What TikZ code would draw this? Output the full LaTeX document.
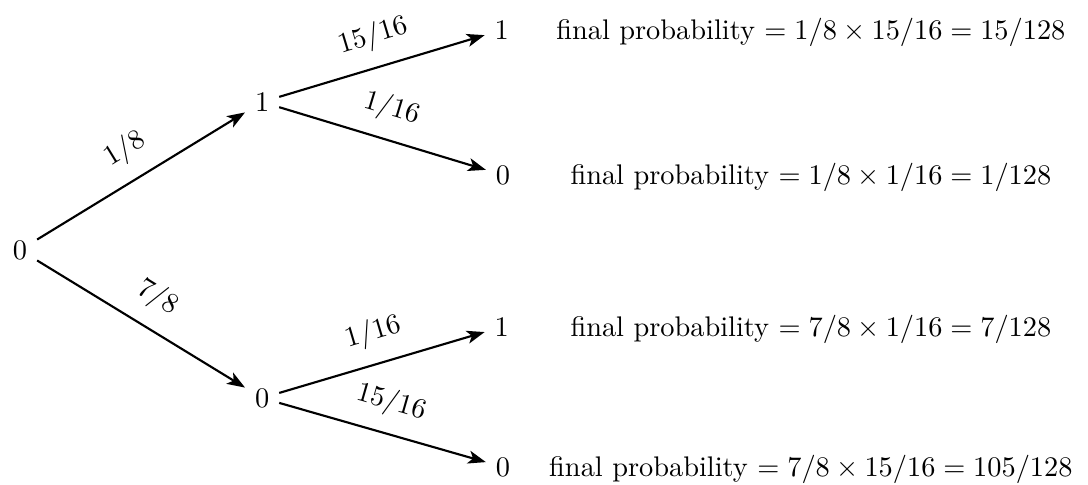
\documentclass[tikz,border=0pt]{standalone}
\usepackage{amsmath}
\usetikzlibrary{arrows.meta,calc}
\tikzset{
  state/.style={inner sep=3.33pt},
  branch/.style={-{Stealth[length=6.3pt,width=4.6pt,inset=1.6pt]},line width=.75pt},
  prob/.style={above,sloped,midway,inner sep=5.6pt},
  final/.style={anchor=base,inner sep=0pt},
}

\begin{document}
\begin{tikzpicture}[x=1cm,y=1cm]
  \useasboundingbox (-.248,-2.912) rectangle (13.234,3.098);
  % states
  \node[state] (r) at (0,0) {$0$};
  \node[state] (a1) at (3,1.834) {$1$};
  \node[state] (a0) at (3,-1.834) {$0$};
  \node[state] (a11) at (5.97,2.726) {$1$};
  \node[state] (a10) at (5.985,.929) {$0$};
  \node[state] (a01) at (5.97,-.954) {$1$};
  \node[state] (a00) at (5.985,-2.689) {$0$};
  % branches
  \draw[branch] (r) -- node[prob] {$1/8$} (a1);
  \draw[branch] (r) -- node[prob] {$7/8$} (a0);
  \draw[branch] (a1) -- node[prob] {$15/16$} (a11);
  \draw[branch] (a1) -- node[prob] {$1/16$} (a10);
  \draw[branch] (a0) -- node[prob] {$1/16$} (a01);
  \draw[branch] (a0) -- node[prob] {$15/16$} (a00);
  % final probabilities
  \coordinate (mid) at (9.80,0);
  \node[final] (p11) at (a11.base -| mid) {final probability $= 1/8\times15/16 = 15/128$};
  \node[final] (p10) at (a10.base -| mid) {final probability $= 1/8\times1/16 = 1/128$};
  \node[final] (p01) at (a01.base -| mid) {final probability $= 7/8\times1/16 = 7/128$};
  \node[final] (p00) at (a00.base -| mid) {final probability $= 7/8\times15/16 = 105/128$};
\end{tikzpicture}
\end{document}
